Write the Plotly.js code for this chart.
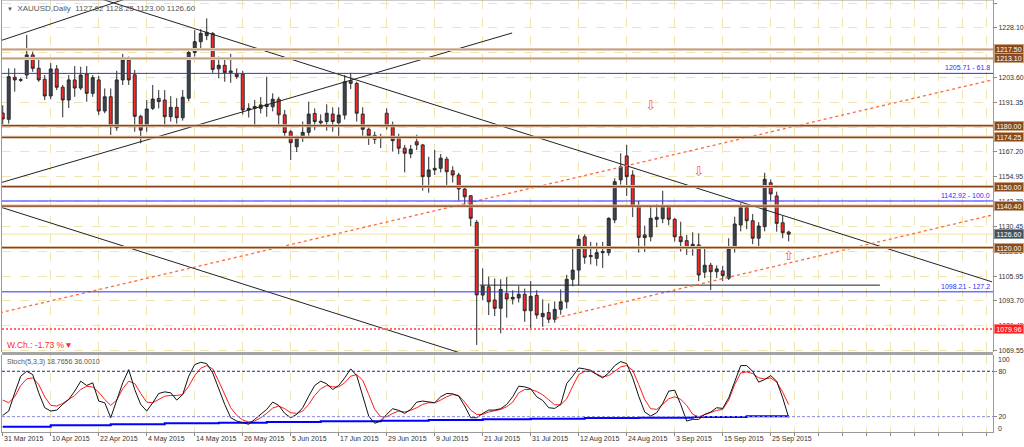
<!DOCTYPE html>
<html><head><meta charset="utf-8">
<script src="https://cdn.plot.ly/plotly-3.0.1.min.js"></script>
<style>html,body{margin:0;padding:0;background:#fff;}#chart{width:1024px;height:447px;}</style>
</head><body><div id="chart"></div>
<script>
// ---------------- DATA ----------------
const startDate = '2015-03-31', endDate = '2015-09-30';
const open = [1186.2,1183.1,1203.8,1202.3,1204.9,1214.8,1208.2,1202.8,1194.6,1207.9,
1198.9,1192.6,1202.5,1198.5,1205.4,1195.9,1202.5,1187.2,1194.2,1179.0,
1202.5,1212.3,1205.0,1184.6,1179.8,1188.5,1193.4,1192.6,1184.4,1189.0,
1183.9,1193.5,1216.0,1221.3,1224.3,1225.4,1208.0,1209.7,1206.1,1205.4,
1205.4,1187.7,1188.5,1188.5,1190.5,1189.3,1193.0,1185.3,1177.0,1169.6,
1173.8,1176.7,1186.0,1182.2,1182.0,1185.7,1181.4,1185.2,1202.1,1200.8,
1185.7,1178.2,1175.2,1173.8,1186.1,1180.3,1173.8,1168.9,1166.1,1172.1,
1170.5,1154.9,1158.2,1159.0,1163.5,1157.8,1155.7,1148.8,1145.5,1132.4,
1096.6,1100.7,1094.2,1090.1,1097.3,1094.7,1095.2,1097.0,1088.9,1096.5,
1086.0,1088.0,1084.7,1089.6,1093.3,1104.4,1108.9,1125.3,1115.5,1114.7,
1117.5,1117.5,1133.6,1153.3,1165.1,1155.7,1140.4,1126.2,1125.3,1133.9,
1134.2,1139.8,1133.9,1125.3,1123.4,1120.1,1121.3,1107.9,1111.3,1108.1,
1108.5,1104.9,1119.6,1131.1,1139.8,1133.2,1124.6,1130.3,1151.9,1145.4,
1132.2,1127.62];
const high = [1190.0,1208.2,1208.2,1203.5,1224.6,1216.4,1212.6,1204.9,1210.8,1209.8,
1200.0,1204.9,1209.3,1209.0,1209.3,1204.9,1204.4,1198.3,1198.3,1207.0,
1215.3,1214.0,1207.4,1185.3,1192.6,1200.0,1197.5,1197.5,1194.5,1193.5,
1197.5,1217.5,1227.1,1227.5,1232.8,1226.0,1214.0,1213.4,1215.3,1208.2,
1207.0,1191.0,1192.6,1194.1,1204.1,1195.9,1194.2,1187.7,1177.8,1175.0,
1182.0,1191.8,1188.5,1185.5,1190.5,1189.0,1189.0,1204.9,1206.0,1201.6,
1189.0,1179.0,1177.0,1176.0,1188.5,1182.0,1176.0,1170.5,1170.5,1175.5,
1171.0,1164.7,1168.0,1166.0,1164.7,1160.0,1156.8,1149.3,1145.8,1133.6,
1109.8,1105.7,1104.8,1104.4,1105.5,1099.0,1101.0,1099.8,1103.5,1099.0,
1094.5,1092.5,1093.5,1099.4,1106.6,1119.6,1126.2,1126.5,1122.8,1122.4,
1122.8,1134.9,1154.1,1166.4,1170.5,1158.0,1143.0,1130.8,1140.4,1141.3,
1148.0,1141.0,1134.5,1132.7,1126.2,1127.5,1127.0,1119.6,1112.5,1111.2,
1111.0,1124.6,1135.2,1141.8,1141.0,1136.5,1132.5,1156.8,1153.5,1147.5,
1135.5,1128.25];
const low = [1179.3,1181.0,1196.7,1201.5,1203.0,1206.5,1201.6,1192.6,1193.0,1197.5,
1184.1,1188.7,1194.2,1197.5,1191.8,1194.2,1185.3,1186.1,1175.4,1177.5,
1200.0,1200.0,1177.0,1171.3,1177.0,1187.7,1188.5,1179.5,1182.0,1181.0,
1182.5,1192.0,1214.0,1218.0,1222.1,1206.0,1203.3,1201.6,1201.1,1203.0,
1185.5,1184.0,1180.3,1186.0,1184.4,1187.0,1179.5,1175.0,1163.1,1167.0,
1172.0,1175.0,1177.8,1179.5,1177.5,1177.0,1174.6,1183.0,1198.0,1182.0,
1175.0,1170.5,1171.0,1169.0,1178.0,1167.2,1166.0,1157.0,1164.0,1168.0,
1148.0,1147.0,1155.7,1157.0,1150.8,1152.0,1143.1,1140.0,1130.6,1072.1,
1094.0,1086.8,1086.3,1077.8,1085.5,1092.0,1093.0,1083.5,1079.5,1085.0,
1081.0,1082.8,1083.0,1087.0,1090.0,1101.0,1101.5,1112.0,1111.7,1111.0,
1110.0,1116.0,1132.0,1151.0,1145.4,1135.0,1117.5,1117.8,1123.0,1130.0,
1132.0,1131.0,1123.0,1118.0,1116.4,1116.0,1103.5,1105.0,1099.1,1105.0,
1103.5,1104.0,1117.5,1128.0,1129.0,1121.7,1120.0,1128.0,1143.0,1127.8,
1124.6,1123.00];
const close = [1183.3,1204.1,1202.5,1202.6,1214.8,1208.2,1202.5,1194.6,1207.9,1198.9,
1192.6,1202.5,1198.5,1204.9,1195.9,1203.6,1187.2,1194.2,1179.5,1202.5,
1212.3,1202.5,1184.6,1177.8,1188.2,1193.1,1191.8,1184.4,1189.0,1183.9,
1194.0,1216.0,1221.3,1225.4,1225.9,1207.7,1209.7,1206.1,1206.9,1204.1,
1187.7,1188.5,1189.4,1190.2,1189.4,1193.0,1185.3,1176.6,1171.6,1174.1,
1176.7,1185.7,1182.0,1181.4,1186.1,1182.0,1185.2,1201.6,1200.8,1186.1,
1178.2,1175.0,1173.3,1174.4,1179.8,1172.6,1168.9,1166.4,1168.4,1170.5,
1154.9,1158.2,1159.0,1164.0,1157.3,1155.7,1148.8,1145.0,1134.4,1096.7,
1101.0,1093.3,1090.1,1099.4,1094.7,1095.5,1097.0,1088.9,1096.0,1086.8,
1087.6,1084.7,1089.6,1093.3,1104.4,1108.9,1124.1,1115.2,1116.1,1117.5,
1118.0,1134.4,1152.4,1159.8,1154.9,1140.4,1125.0,1124.9,1134.4,1134.9,
1140.1,1133.9,1125.3,1122.9,1119.6,1121.6,1106.5,1111.3,1108.1,1109.5,
1106.2,1119.6,1131.6,1139.8,1133.2,1124.6,1130.6,1153.6,1146.4,1131.9,
1127.3,1126.60];

const stochK = [21.7,27.4,51.5,73.5,80.0,75.6,51.5,31.8,27.4,28.7,
36.2,42.8,53.7,66.9,61.2,64.7,40.6,38.4,18.6,42.8,
64.7,82.2,55.9,36.2,27.4,38.4,50.6,52.8,51.5,41.9,
49.3,73.5,88.8,91.9,90.1,77.8,55.9,36.2,18.6,14.2,
12.0,9.9,16.4,23.0,29.6,39.2,34.9,24.3,18.6,23.0,
31.8,47.1,61.2,66.9,63.4,55.9,61.2,71.3,83.1,74.3,
47.1,20.8,11.2,14.2,23.0,30.5,28.3,24.3,29.6,39.2,
40.6,39.2,38.4,46.3,50.6,50.2,47.1,34.0,18.6,18.6,
24.3,28.7,28.7,30.5,36.2,46.3,60.3,59.4,56.8,46.3,
41.4,31.8,30.9,36.2,63.8,73.5,84.4,83.1,81.3,75.6,
71.3,77.8,87.5,92.8,90.1,71.3,47.1,26.1,20.8,25.2,
37.5,53.7,55.0,36.2,14.2,16.4,16.4,23.0,26.1,31.8,
30.9,44.9,66.9,87.5,87.5,80.0,65.6,69.1,74.3,66.9,
44.9,18.7656];
const stochD = [41.9,38.4,46.3,61.2,69.9,71.3,62.5,46.3,34.9,34.0,
37.5,42.8,48.0,55.9,60.3,59.0,52.4,42.8,34.9,41.9,
56.8,66.9,63.8,50.6,39.2,38.4,42.8,47.1,48.0,48.0,
49.3,60.3,74.3,84.0,87.5,83.1,66.9,49.3,31.8,21.7,
15.6,12.9,14.2,18.6,24.3,31.4,34.0,30.5,25.2,24.3,
27.4,36.2,48.0,56.8,61.2,59.4,59.4,64.7,73.5,75.6,
68.2,49.3,29.6,19.9,19.9,24.3,27.4,26.1,28.3,31.8,
36.2,38.4,38.4,41.9,46.3,49.3,48.0,39.2,28.7,23.0,
23.0,26.1,27.4,29.6,33.1,39.2,51.5,55.9,55.9,53.3,
48.9,41.9,35.7,35.7,43.6,60.3,75.6,80.0,80.0,76.5,
72.6,74.3,80.0,85.7,87.5,81.3,62.5,42.8,30.5,29.6,
36.2,43.6,46.3,42.8,34.9,23.0,19.9,22.6,26.1,28.3,
29.6,41.9,62.5,77.8,79.2,77.0,71.3,69.9,71.3,65.6,
52.4,36.0010];
// slow blue line in the oscillator window (bar index where it steps, value)
const slowIdx = [0,8,18,27,36,44,53,63,71,80,88,97,106,115,124,131];
const slowVal = [6.8,8.5,9.9,11.2,12.0,12.9,13.8,14.7,15.6,16.4,17.3,18.2,18.6,19.5,20.4,20.4];

const priceTicks = [1240.35,1228.10,1215.85,1203.60,1191.35,1179.10,1167.20,1154.95,1142.70,1130.45,1118.20,1105.95,1093.70,1081.45,1069.55];
const hiddenTicks = [1215.85,1179.10];   // labels fully covered by level boxes in the original
const stochLevels = [80, 20];
const levels = [1217.50,1213.10,1180.00,1174.25,1150.00,1140.40,1120.00];
const levelTone = ['light','light','dark','dark','dark','dark','dark'];
const fiboLevels = [1205.71,1142.92,1098.21];
const fiboRatio = ['61.8','100.0','127.2'];
const bidPrice = 1126.60;
const alertPrice = 1079.96;
const weeklyChange = '-1.73';
const headerOHLC = '1127.62 1128.25 1123.00 1126.60';
const stochHeader = 'Stoch(5,3,3) 18.7656 36.0010';
// trend lines: [bar index start, price start, bar index end, price end]
const blackLines = [[-0.45,1151.8,84.9,1225.6],[-0.45,1221.7,20.4,1242.3],[15.4,1243.3,164.9,1103.1],[-0.45,1140.0,77.9,1066.6],[79.5,1101.5,146.2,1101.5]];
const dottedLines = [[-0.45,1087.9,164.9,1202.5],[92.2,1085.3,164.9,1136.0]];
const arrowIdx = [108,116,131];
const arrowPrice = [1189.2,1156.7,1115.3];
const arrowSym = ['⇩','⇩','⇧'];

// ---------------- BUILD ----------------
const months = ['Jan','Feb','Mar','Apr','May','Jun','Jul','Aug','Sep','Oct','Nov','Dec'];
const dates = [];
for (let d = new Date(startDate+'T00:00:00Z'); d <= new Date(endDate+'T00:00:00Z'); d.setUTCDate(d.getUTCDate()+1)) {
  const w = d.getUTCDay(); if (w > 0 && w < 6) dates.push(new Date(d.getTime()));
}
const idx = open.map((_, i) => i);
const tickvals = [], ticktext = [];
for (let i = 0; i < dates.length; i += 8) { const d = dates[i]; tickvals.push(i); ticktext.push(d.getUTCDate()+' '+months[d.getUTCMonth()]+' '+d.getUTCFullYear()); }
const gridvals = tickvals.slice();
for (let i = tickvals[tickvals.length-1] + 4; i <= 164; i += 4) gridvals.push(i);

const FONT = 'Liberation Sans, Arial, sans-serif';
const traces = [];
traces.push({type:'candlestick', x: idx, open, high, low, close, xaxis:'x', yaxis:'y',
  increasing:{line:{color:'#2b2b2b', width:1}, fillcolor:'#3b4450'},
  decreasing:{line:{color:'#2b2b2b', width:1}, fillcolor:'#ee2a2a'},
  hoverinfo:'skip', showlegend:false});
blackLines.forEach(l => traces.push({type:'scatter', mode:'lines', x:[l[0],l[2]], y:[l[1],l[3]], xaxis:'x', yaxis:'y',
  line:{color:'#222', width:1}, hoverinfo:'skip', showlegend:false}));
dottedLines.forEach(l => traces.push({type:'scatter', mode:'lines', x:[l[0],l[2]], y:[l[1],l[3]], xaxis:'x', yaxis:'y',
  line:{color:'#ff6a3a', width:1.3, dash:'3px,3px'}, hoverinfo:'skip', showlegend:false}));
traces.push({type:'scatter', mode:'text', x:arrowIdx, y:arrowPrice, text:arrowSym, xaxis:'x', yaxis:'y',
  textfont:{color:'#ff5a5a', size:13, family:'DejaVu Sans'}, hoverinfo:'skip', showlegend:false});
// oscillator
traces.push({type:'scatter', mode:'lines', x:slowIdx, y:slowVal, xaxis:'x', yaxis:'y2', line:{color:'#0000ff', width:2, shape:'hv'}, hoverinfo:'skip', showlegend:false});
traces.push({type:'scatter', mode:'lines', x:idx, y:stochD, xaxis:'x', yaxis:'y2', line:{color:'#ff1a1a', width:1}, hoverinfo:'skip', showlegend:false});
traces.push({type:'scatter', mode:'lines', x:idx, y:stochK, xaxis:'x', yaxis:'y2', line:{color:'#111', width:1}, hoverinfo:'skip', showlegend:false});

const shapes = [], annotations = [];
// date labels (left-aligned at their tick, MetaTrader style)
tickvals.forEach((v, k) => annotations.push({xref:'x', x:v, xanchor:'left', xshift:-1, yref:'paper', y:0, yanchor:'top', yshift:-1,
  text:ticktext[k], showarrow:false, font:{size:7, color:'#333', family:FONT}}));
// price levels
levels.forEach((v, k) => {
  const light = levelTone[k] === 'light';
  shapes.push({type:'line', xref:'paper', x0:0, x1:1, yref:'y', y0:v, y1:v, line:{color: light ? '#e3cfbd' : '#dcc0a6', width:3}});
  shapes.push({type:'line', xref:'paper', x0:0, x1:1, yref:'y', y0:v, y1:v, line:{color: light ? '#c49e80' : '#86441a', width:1.2}});
  annotations.push({xref:'paper', x:1, xanchor:'left', xshift:1, yref:'y', y:v, yanchor:'middle', text:v.toFixed(2), showarrow:false,
    bgcolor:'#8a4a1e', bordercolor:'#c9a27e', borderwidth:1, borderpad:0, width:28, height:8, font:{size:7, color:'#fff', family:FONT}});
});
fiboLevels.forEach((v, k) => {
  shapes.push({type:'line', xref:'paper', x0:0, x1:1, yref:'y', y0:v, y1:v, line:{color:'#2d2dff', width:1}});
  annotations.push({xref:'paper', x:1, xanchor:'right', xshift:-1, yref:'y', y:v, yanchor:'bottom', text:v.toFixed(2)+' - '+fiboRatio[k], showarrow:false,
    font:{size:7, color:'#2d2dff', family:FONT}});
});
shapes.push({type:'line', xref:'paper', x0:0, x1:1, yref:'y', y0:bidPrice, y1:bidPrice, line:{color:'#efe4a8', width:1}, layer:'below'});
annotations.push({xref:'paper', x:1, xanchor:'left', xshift:1, yref:'y', y:bidPrice, yanchor:'middle', text:bidPrice.toFixed(2), showarrow:false,
  bgcolor:'#46505a', bordercolor:'#8a9098', borderwidth:1, borderpad:0, width:28, height:8, font:{size:7, color:'#fff', family:FONT}});
shapes.push({type:'line', xref:'paper', x0:0, x1:1, yref:'y', y0:alertPrice, y1:alertPrice, line:{color:'#ff6b6b', width:2, dash:'2px,2px'}});
annotations.push({xref:'paper', x:1, xanchor:'left', xshift:1, yref:'y', y:alertPrice, yanchor:'middle', text:alertPrice.toFixed(2), showarrow:false,
  bgcolor:'#ff2020', bordercolor:'#ff8080', borderwidth:1, borderpad:0, width:28, height:8, font:{size:7, color:'#fff', family:FONT}});
// oscillator levels
stochLevels.forEach((v, k) => shapes.push({type:'line', xref:'paper', x0:0, x1:1, yref:'y2', y0:v, y1:v,
  line:{color: k === 0 ? '#25258f' : '#8a8ae0', width:1, dash:'3px,2px'}}));
annotations.push({xref:'paper', x:1, xanchor:'left', xshift:3, yref:'y2', y:95.5, text:'100', showarrow:false, font:{size:7, color:'#333', family:FONT}});
annotations.push({xref:'paper', x:1, xanchor:'left', xshift:3, yref:'y2', y:4.5, text:'0', showarrow:false, font:{size:7, color:'#333', family:FONT}});
// frame & separator
shapes.push({type:'line', xref:'paper', x0:0, x1:1, yref:'paper', y0:1, y1:1, line:{color:'#9a9a9a', width:1}});
shapes.push({type:'line', xref:'paper', x0:0, x1:1, yref:'paper', y0:0.1817, y1:0.1817, line:{color:'#a4a4a4', width:3}});
// texts
annotations.push({xref:'paper', x:0.003, xanchor:'left', yref:'paper', y:0.981, yanchor:'middle', showarrow:false,
  text:'<span style="font-size:6px">▼</span>  XAUUSD,Daily  '+headerOHLC, font:{size:8, color:'#555', family:FONT}});
annotations.push({xref:'paper', x:0.003, xanchor:'left', yref:'paper', y:0.2014, yanchor:'middle', showarrow:false,
  text:'W.Ch.: '+weeklyChange+' %▼', font:{size:8.5, color:'#ff2a2a', family:FONT}});
annotations.push({xref:'paper', x:0.003, xanchor:'left', yref:'paper', y:0.162, yanchor:'middle', showarrow:false,
  text:stochHeader, font:{size:7, color:'#555', family:FONT}});

const GRID = '#eee4b4';
const layout = {
  width:1024, height:447, margin:{l:2, r:31, t:0, b:15},
  paper_bgcolor:'#fff', plot_bgcolor:'#fff', showlegend:false, hovermode:false,
  font:{family:FONT, size:7, color:'#333'},
  xaxis:{type:'linear', range:[-0.12, 165.05], anchor:'y2', tickmode:'array', tickvals:gridvals, showticklabels:false,
    ticks:'outside', ticklen:3, tickcolor:'#888', showgrid:true, gridcolor:GRID, griddash:'dash', gridwidth:1,
    showline:true, linecolor:'#999', zeroline:false, rangeslider:{visible:false}, fixedrange:true},
  yaxis:{domain:[0.1852, 1], range:[1068.6, 1241.83], side:'right', tickmode:'array', tickvals:priceTicks,
    ticktext:priceTicks.map(v => hiddenTicks.includes(v) ? '' : v.toFixed(2)), ticks:'outside', ticklen:3, tickcolor:'#888',
    tickfont:{size:7, color:'#333', family:FONT}, showgrid:true, gridcolor:GRID, griddash:'dash',
    showline:true, mirror:true, linecolor:'#9a9a9a', zeroline:false, fixedrange:true},
  yaxis2:{domain:[0, 0.1782], range:[-0.3, 101.5], side:'right', tickmode:'array', tickvals:stochLevels,
    ticks:'outside', ticklen:3, tickcolor:'#888', tickfont:{size:7, color:'#333', family:FONT},
    showgrid:false, showline:true, mirror:true, linecolor:'#9a9a9a', zeroline:false, fixedrange:true},
  shapes, annotations
};
Plotly.newPlot('chart', traces, layout, {staticPlot:true, displayModeBar:false});
</script></body></html>
